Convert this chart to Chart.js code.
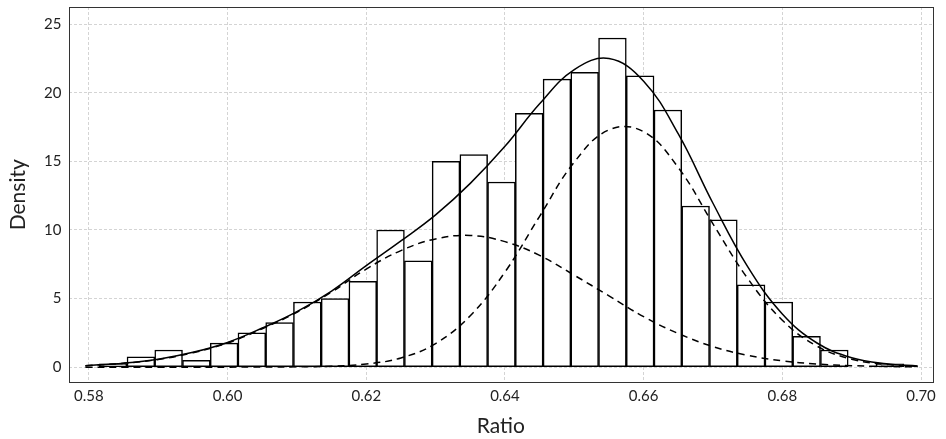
<!DOCTYPE html>
<html>
<head>
<meta charset="utf-8">
<script src="https://cdn.jsdelivr.net/npm/chart.js@4/dist/chart.umd.min.js"></script>
<style>
html,body{margin:0;padding:0;background:#fff;}
#wrap{width:946px;height:439px;}
</style>
</head>
<body>
<div id="wrap"><canvas id="c" width="946" height="439"></canvas></div>
<script>
// Histogram bins (centers) and densities
const binCenters = [0.5835,0.5875,0.5915,0.5955,0.5995,0.6035,0.6075,0.6115,0.6155,0.6195,
  0.6235,0.6275,0.6315,0.6355,0.6395,0.6435,0.6475,0.6515,0.6555,0.6595,
  0.6635,0.6675,0.6715,0.6755,0.6795,0.6835,0.6875,0.6915,0.6955];
const density = [0.25,0.75,1.25,0.5,1.75,2.5,3.25,4.75,5.0,6.25,
  10.0,7.75,15.0,15.5,13.5,18.5,21.0,21.5,24.0,21.25,
  18.75,11.75,10.75,6.0,4.75,2.25,1.25,0,0.25];

// Fitted curves
const curveX = [0.5795,0.585,0.59,0.595,0.60,0.605,0.61,0.615,0.62,0.625,0.63,0.635,0.64,0.645,
  0.65,0.655,0.66,0.665,0.67,0.675,0.68,0.685,0.69,0.695,0.6995];
const totalY = [0.11,0.29,0.58,1.08,1.8,2.85,4.05,5.55,7.4,9.2,11.1,13.4,16.1,19.2,
  21.7,22.5,20.85,17.0,11.95,7.33,3.88,1.76,0.69,0.24,0.085];
const comp1Y = [0.10,0.28,0.56,1.05,1.76,2.8,4.0,5.48,7.15,8.5,9.35,9.6,9.15,8.15,
  6.7,5.2,3.68,2.45,1.5,0.86,0.46,0.23,0.11,0.05,0.02];
const comp2Y = [0,0,0,0,0,0.01,0.02,0.07,0.23,0.67,1.72,3.75,6.93,11.0,
  14.95,17.3,17.17,14.55,10.45,6.47,3.42,1.53,0.58,0.19,0.065];

const xTicks = [0.58,0.60,0.62,0.64,0.66,0.68,0.70];
const yTicks = [0,5,10,15,20,25];

const pts = ys => curveX.map((x,i)=>({x:x,y:ys[i]}));

const framePlugin = {
  id:'frame',
  afterDraw(chart){
    const a = chart.chartArea, ctx = chart.ctx;
    ctx.save();
    ctx.strokeStyle = '#333';
    ctx.lineWidth = 1;
    ctx.strokeRect(Math.round(a.left)+0.5, Math.round(a.top)+0.5,
      Math.round(a.right-a.left)-1, Math.round(a.bottom-a.top)-1);
    ctx.restore();
  }
};

Chart.defaults.font.family = 'Lato, "DejaVu Sans", sans-serif';
Chart.defaults.color = '#222';

new Chart(document.getElementById('c'), {
  data: {
    datasets: [
      {type:'line', data: pts(totalY), borderColor:'#000', borderWidth:1.5, pointRadius:0,
        tension:0.4, fill:false, order:0},
      {type:'line', data: pts(comp1Y), borderColor:'#000', borderWidth:1.5, pointRadius:0,
        borderDash:[7,5], tension:0.4, fill:false, order:1},
      {type:'line', data: pts(comp2Y), borderColor:'#000', borderWidth:1.5, pointRadius:0,
        borderDash:[7,5], tension:0.4, fill:false, order:2},
      {type:'bar', data: binCenters.map((x,i)=>({x:x,y:density[i]})),
        backgroundColor:'#fff', borderColor:'#000', borderWidth:1.5, borderSkipped:false,
        barPercentage:1, categoryPercentage:1, grouped:false, order:5}
    ]
  },
  options: {
    responsive:false,
    animation:false,
    events:[],
    layout:{padding:{top:7,right:13,left:0,bottom:0}},
    plugins:{legend:{display:false}, tooltip:{enabled:false}},
    scales:{
      x:{
        type:'linear', min:0.57706, max:0.70173, offset:false,
        afterBuildTicks(s){ s.ticks = xTicks.map(v=>({value:v})); },
        afterFit(s){ s.height = 56.5; s.paddingLeft = 0; s.paddingRight = 0; },
        ticks:{callback:v=>Number(v).toFixed(2), font:{size:15}, color:'#222', padding:5, maxRotation:0},
        grid:{color:'#d4d4d4', lineWidth:1, drawTicks:false, offset:false},
        border:{display:false, dash:[3,2]},
        title:{display:true, text:'Ratio', font:{size:21}, color:'#222', padding:{top:2,bottom:0}}
      },
      y:{
        type:'linear', min:-1.12, max:26.26,
        afterBuildTicks(s){ s.ticks = yTicks.map(v=>({value:v})); },
        afterFit(s){ s.width = 68.5; s.paddingTop = 0; s.paddingBottom = 0; },
        ticks:{font:{size:15}, color:'#222', padding:7},
        grid:{color:'#d4d4d4', lineWidth:1, drawTicks:false},
        border:{display:false, dash:[3,2]},
        title:{display:true, text:'Density', font:{size:21}, color:'#222', padding:{top:6,bottom:0}}
      }
    }
  },
  plugins:[framePlugin]
});
</script>
</body>
</html>
